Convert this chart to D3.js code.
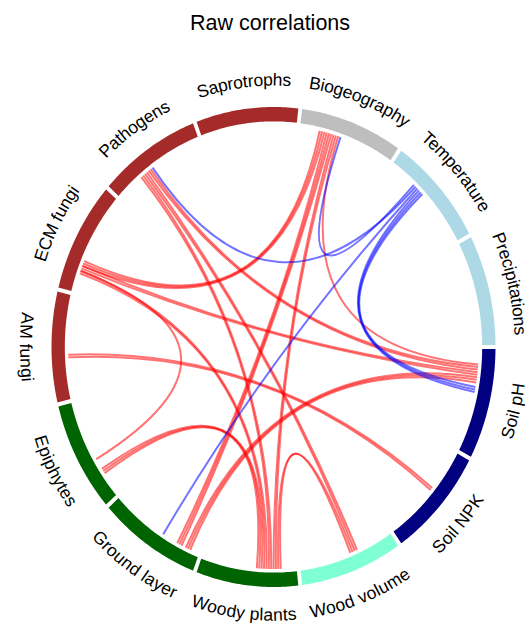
<!DOCTYPE html>
<html>
<head>
<meta charset="utf-8">
<script src="https://cdn.jsdelivr.net/npm/d3@7"></script>
<style>
  body { margin: 0; background: #fff; }
  text { font-family: "Liberation Sans", Arial, sans-serif; fill: #000; }
</style>
</head>
<body>
<div id="chart"></div>
<script>
// sectors, clockwise from 3 o'clock
const sectors = ["Soil pH", "Soil NPK", "Wood volume", "Woody plants", "Ground layer", "Epiphytes",
  "AM fungi", "ECM fungi", "Pathogens", "Saprotrophs", "Biogeography", "Temperature", "Precipitations"];
const sectorColors = ["#000080", "#000080", "#7FFFD4", "#006400", "#006400", "#006400",
  "#A52A2A", "#A52A2A", "#A52A2A", "#A52A2A", "#BEBEBE", "#ADD8E6", "#ADD8E6"];

// [from sector, position in sector (0-1), to sector, position, number of lines]
const positiveLinks = [
  ["Biogeography", 0.21, "ECM fungi", 0.265, 3],
  ["Biogeography", 0.285, "Ground layer", 0.20, 3],
  ["Biogeography", 0.36, "Woody plants", 0.215, 2],
  ["Biogeography", 0.41, "Soil pH", 0.15, 1],
  ["ECM fungi", 0.24, "Soil pH", 0.225, 2],
  ["ECM fungi", 0.19, "Woody plants", 0.315, 2],
  ["ECM fungi", 0.215, "Epiphytes", 0.40, 1],
  ["Pathogens", 0.295, "Woody plants", 0.265, 2],
  ["Pathogens", 0.345, "Wood volume", 0.38, 2],
  ["Pathogens", 0.395, "Soil pH", 0.175, 2],
  ["Ground layer", 0.10, "Soil pH", 0.275, 3],
  ["Epiphytes", 0.24, "Woody plants", 0.365, 3],
  ["Woody plants", 0.165, "Wood volume", 0.43, 2],
  ["AM fungi", 0.40, "Soil NPK", 0.42, 2]
];
const negativeLinks = [
  ["Pathogens", 0.445, "Temperature", 0.325, 1],
  ["Biogeography", 0.435, "Temperature", 0.30, 1],
  ["Ground layer", 0.42, "Temperature", 0.35, 1],
  ["Soil pH", 0.37, "Temperature", 0.375, 3]
];

const width = 530, height = 629;
const cx = 273.5, cy = 347, rx = 222, ry = 240;
const gapDeg = 1, step = 0.025;
const trackIn = 0.94, linkR = 0.925, labelR = 1.115;

const svg = d3.select("#chart").append("svg")
  .attr("width", width)
  .attr("height", height);

const sx = d3.scaleLinear().domain([-1, 1]).range([cx - rx, cx + rx]);
const sy = d3.scaleLinear().domain([-1, 1]).range([cy - ry, cy + ry]);
const slot = 360 / sectors.length;
const sectorScale = {};
sectors.forEach((s, i) => {
  sectorScale[s] = d3.scaleLinear().domain([0, 1])
    .range([i * slot + gapDeg / 2, (i + 1) * slot - gapDeg / 2]);
});

const rad = d => d * Math.PI / 180;
const pt = (deg, r) => [sx(r * Math.cos(rad(deg))), sy(r * Math.sin(rad(deg)))];
const arcPoints = (a0, a1, r) => d3.range(41).map(k => pt(a0 + (a1 - a0) * k / 40, r));
const line = d3.line();

// title
svg.append("text")
  .attr("x", 270)
  .attr("y", 30)
  .attr("text-anchor", "middle")
  .style("font-size", "21.5px")
  .text("Raw correlations");

// track
svg.append("g").selectAll("path")
  .data(sectors)
  .enter()
  .append("path")
  .attr("d", s => {
    const [a0, a1] = sectorScale[s].range();
    return line(arcPoints(a0, a1, 1).concat(arcPoints(a1, a0, trackIn))) + "Z";
  })
  .attr("fill", (s, i) => sectorColors[i]);

// links: quadratic curves bending through the centre
function linkLines(rows, sign) {
  const out = [];
  rows.forEach(([from, fp, to, tp, n]) => {
    for (let i = 0; i < n; i++) {
      out.push({
        a: sectorScale[from](fp + i * step),
        b: sectorScale[to](tp + (n - 1 - i) * step),
        sign
      });
    }
  });
  return out;
}
const links = linkLines(positiveLinks, 1).concat(linkLines(negativeLinks, -1));

svg.append("g").selectAll("path")
  .data(links)
  .enter()
  .append("path")
  .attr("d", d => {
    const p = d3.path();
    const p0 = pt(d.a, linkR), p1 = pt(d.b, linkR);
    p.moveTo(p0[0], p0[1]);
    p.quadraticCurveTo(cx, cy, p1[0], p1[1]);
    return p.toString();
  })
  .attr("fill", "none")
  .attr("stroke", d => d.sign > 0 ? "#FF0000" : "#0000FF")
  .attr("stroke-opacity", 0.55)
  .attr("stroke-width", 2);

// labels bent along the circle
const defs = svg.append("defs");
const labels = svg.append("g");
sectors.forEach((s, i) => {
  const [a0, a1] = sectorScale[s].range();
  const mid = (a0 + a1) / 2;
  const lower = mid <= 180 + 1e-6;
  const pts = lower ? arcPoints(mid + 70, mid - 70, labelR) : arcPoints(mid - 70, mid + 70, labelR);
  let half = 0;
  for (let k = 1; k <= 20; k++) {
    half += Math.hypot(pts[k][0] - pts[k - 1][0], pts[k][1] - pts[k - 1][1]);
  }
  defs.append("path").attr("id", "lab" + i).attr("d", line(pts));
  labels.append("text")
    .style("font-size", "17.5px")
    .attr("dy", "0.35em")
    .append("textPath")
    .attr("href", "#lab" + i)
    .attr("startOffset", half)
    .attr("text-anchor", "middle")
    .text(s);
});
</script>
</body>
</html>
